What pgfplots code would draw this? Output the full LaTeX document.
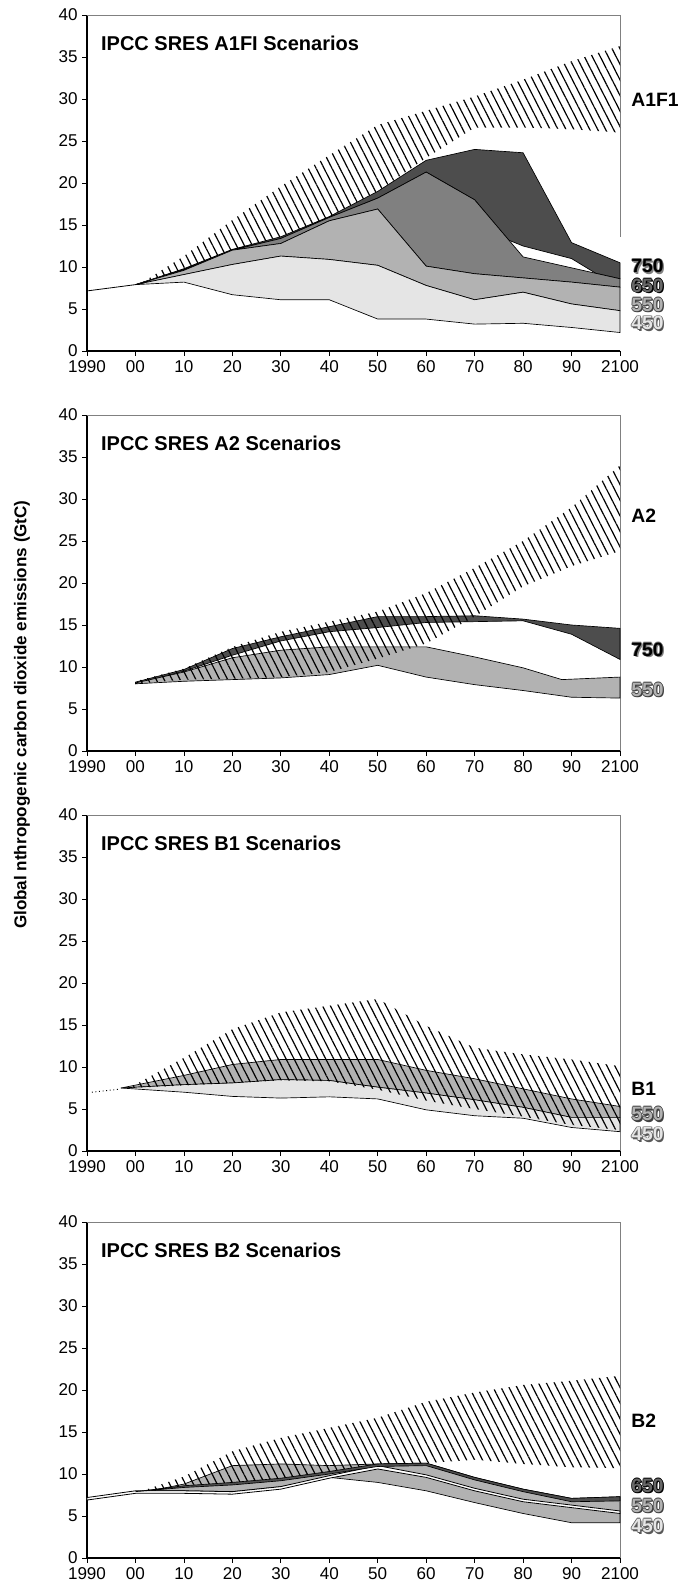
\documentclass[border=0pt]{standalone}
\usepackage{fontspec}
\setmainfont{Liberation Sans}
\usepackage{pgfplots}
\pgfplotsset{compat=1.18}
\usetikzlibrary{patterns.meta}

\definecolor{c750}{RGB}{77,77,77}
\definecolor{c650}{RGB}{128,128,128}
\definecolor{c550}{RGB}{178,178,178}
\definecolor{c450}{RGB}{229,229,229}

\pgfplotsset{
  panel/.style={
    scale only axis, width=399.75pt, height=252pt,
    anchor=north west,
    xmin=1990, xmax=2100, ymin=0, ymax=40,
    axis lines*=left,
    axis line style={black, line width=0.8pt},
    y axis line style={line width=1.1pt},
    xtick={1990,2000,...,2100},
    xticklabels={1990,00,10,20,30,40,50,60,70,80,90,2100},
    ytick={0,5,...,40},
    tick align=outside,
    major tick length=3.5pt,
    tick style={black, line width=0.6pt},
    tick label style={font=\fontsize{12.8}{14}\selectfont},
    /pgf/number format/assume math mode=true,
    clip=false,
  },
  band/.style={draw=black, line width=0.5pt},
  hatch/.style={draw=none, pattern={Lines[angle=-63,distance=5.3pt,line width=0.9pt]}, pattern color=black},
}
\tikzset{
  olab/.style={anchor=west, inner sep=0pt, font=\fontsize{14.5}{15}\selectfont\bfseries},
  ptitle/.style={anchor=west, inner sep=0pt, font=\fontsize{15}{16}\selectfont\bfseries},
}
% outlined scenario label: y value, fill colour, outline colour, text
\newcommand{\olab}[4]{%
  \node[olab, text=#3, xshift=1.0pt, yshift=-1.0pt] at (axis cs:2102.3,#1) {#4};
  \node[olab, text=#3, xshift=0.6pt] at (axis cs:2102.3,#1) {#4};
  \node[olab, text=#3, xshift=-0.6pt] at (axis cs:2102.3,#1) {#4};
  \node[olab, text=#3, yshift=0.6pt] at (axis cs:2102.3,#1) {#4};
  \node[olab, text=#3, yshift=-0.6pt] at (axis cs:2102.3,#1) {#4};
  \node[olab, text=#2] at (axis cs:2102.3,#1) {#4};
}
\newcommand{\frameTR}[1]{%
  \draw[gray, line width=0.6pt] (rel axis cs:0,1) -- (rel axis cs:1,1) -- (rel axis cs:1,#1);
}

\begin{document}
\begin{tikzpicture}
\path[use as bounding box] (0pt,0pt) rectangle (509.25pt,-1190.25pt);
\node[rotate=90, font=\fontsize{12.8}{14}\selectfont\bfseries] at (16.5pt,-536pt)
  {Global nthropogenic carbon dioxide emissions (GtC)};

% ---------------- A1FI ----------------
\begin{axis}[panel, at={(65.25pt,-11.25pt)}]
\frameTR{0.34}
\addplot[band, fill=c750] coordinates {
  (2000,7.9) (2010,9.8) (2020,12.1) (2030,13.6) (2040,16.0) (2050,19.0)
  (2060,22.7) (2070,24.0) (2080,23.6) (2090,12.9) (2100,10.5)
  (2100,8.6) (2095,9.25) (2090,11.0) (2080,12.5) (2077,13.2) (2070,18.0)
  (2060,21.3) (2050,18.2) (2040,15.9) (2030,13.4) (2020,12.0) (2010,9.7) (2000,7.9)} -- cycle;
\addplot[band, fill=c650] coordinates {
  (2000,7.9) (2010,9.7) (2020,12.0) (2030,13.4) (2040,15.9) (2050,18.2)
  (2060,21.3) (2070,18.0) (2080,11.2) (2090,9.9) (2100,8.6)
  (2100,7.6) (2090,8.2) (2080,8.7) (2070,9.2) (2060,10.1) (2050,16.9)
  (2040,15.5) (2030,12.8) (2020,12.0) (2010,9.6) (2000,7.9)} -- cycle;
\addplot[band, fill=c550] coordinates {
  (2000,7.9) (2010,9.6) (2020,12.0) (2030,12.8) (2040,15.5) (2050,16.9)
  (2060,10.1) (2070,9.2) (2080,8.7) (2090,8.2) (2100,7.6)
  (2100,4.8) (2090,5.6) (2080,7.0) (2070,6.1) (2060,7.8) (2050,10.2)
  (2040,10.9) (2030,11.3) (2020,10.3) (2010,9.1) (2000,7.9)} -- cycle;
\addplot[band, fill=c450] coordinates {
  (2000,7.9) (2010,9.1) (2020,10.3) (2030,11.3) (2040,10.9) (2050,10.2)
  (2060,7.8) (2070,6.1) (2080,7.0) (2090,5.6) (2100,4.8)
  (2100,2.2) (2090,2.8) (2080,3.3) (2070,3.2) (2060,3.8) (2050,3.8)
  (2040,6.1) (2030,6.1) (2020,6.7) (2010,8.2) (2000,7.9)} -- cycle;
\addplot[black, line width=0.6pt] coordinates {(1990,7.15) (2000,7.9)};
\addplot[hatch] coordinates {
  (2001,8.0) (2010,11.3) (2020,15.6) (2030,19.6) (2040,23.3) (2050,26.9)
  (2060,28.6) (2070,30.3) (2080,32.3) (2090,34.5) (2100,36.3)
  (2100,26.0) (2090,26.4) (2080,26.6) (2070,26.6) (2060,23.0) (2050,19.0)
  (2040,16.0) (2030,13.6) (2020,12.1) (2010,9.8) (2001,8.0)} -- cycle;
\node[ptitle] at (rel axis cs:0.026,0.915) {IPCC SRES A1FI Scenarios};
\node[olab] at (axis cs:2102.3,29.9) {A1F1};
\olab{10.1}{black}{gray}{750}
\olab{7.8}{c650!80!black}{black}{650}
\olab{5.5}{c550}{black!75}{550}
\olab{3.3}{c450}{black!65}{450}
\end{axis}

% ---------------- A2 ----------------
\begin{axis}[panel, at={(65.25pt,-311.25pt)}]
\frameTR{0}
\addplot[band, fill=c750] coordinates {
  (2000,8.2) (2010,9.7) (2020,12.2) (2030,13.6) (2040,14.8) (2050,16.0)
  (2060,16.0) (2070,16.1) (2080,15.7) (2090,15.0) (2100,14.6)
  (2100,10.9) (2090,13.9) (2080,15.5) (2070,15.4) (2060,15.3) (2050,14.7)
  (2040,14.2) (2030,13.1) (2020,11.4) (2010,9.5) (2000,8.0)} -- cycle;
\addplot[band, fill=c550] coordinates {
  (2000,8.1) (2010,9.4) (2020,11.1) (2030,12.0) (2040,12.4) (2050,12.4)
  (2060,12.4) (2070,11.2) (2080,9.9) (2088,8.5) (2100,8.8)
  (2100,6.3) (2090,6.4) (2080,7.2) (2070,7.9) (2060,8.8) (2050,10.2)
  (2040,9.1) (2030,8.7) (2020,8.5) (2010,8.3) (2000,8.0)} -- cycle;
\addplot[hatch] coordinates {
  (2000,8.3) (2010,9.8) (2020,12.4) (2030,14.2) (2040,15.4) (2050,16.6)
  (2060,18.8) (2070,21.8) (2080,25.0) (2090,29.0) (2100,34.0)
  (2100,23.8) (2090,22.0) (2080,19.6) (2070,16.0) (2060,12.8) (2050,11.0)
  (2040,9.4) (2030,8.8) (2020,8.6) (2010,8.5) (2000,8.0)} -- cycle;
\node[ptitle] at (rel axis cs:0.026,0.915) {IPCC SRES A2 Scenarios};
\node[olab] at (axis cs:2102.3,28.0) {A2};
\olab{12.1}{black}{gray}{750}
\olab{7.3}{c550}{black!75}{550}
\end{axis}

% ---------------- B1 ----------------
\begin{axis}[panel, at={(65.25pt,-611.25pt)}]
\frameTR{0}
\addplot[band, fill=c550] coordinates {
  (1997,7.5) (2010,9.0) (2020,10.3) (2030,10.9) (2040,10.9) (2050,10.9)
  (2060,9.6) (2070,8.6) (2080,7.4) (2090,6.2) (2100,5.3)
  (2100,4.0) (2090,4.0) (2080,5.2) (2070,6.1) (2060,6.9) (2050,7.6)
  (2040,8.4) (2030,8.5) (2020,8.1) (2010,7.9) (1997,7.5)} -- cycle;
\addplot[band, fill=c450] coordinates {
  (1997,7.5) (2010,7.9) (2020,8.1) (2030,8.5) (2040,8.4) (2050,7.6)
  (2060,6.9) (2070,6.1) (2080,5.2) (2090,4.0) (2100,4.0)
  (2100,2.3) (2090,2.8) (2080,3.9) (2070,4.2) (2060,4.9) (2050,6.2)
  (2040,6.45) (2030,6.3) (2020,6.5) (2010,7.0) (1997,7.5)} -- cycle;
\addplot[black, dotted, line width=0.7pt] coordinates {(1991,7.0) (1996.5,7.35)};
\addplot[hatch] coordinates {
  (1999,7.6) (2010,11.1) (2020,14.5) (2030,16.5) (2040,17.3) (2050,18.1)
  (2060,14.9) (2070,12.3) (2080,11.5) (2090,10.9) (2100,10.1)
  (2100,2.5) (2090,3.1) (2080,4.1) (2070,5.0) (2060,6.0) (2050,7.3)
  (2040,8.3) (2030,8.4) (2020,8.1) (2010,7.8) (1999,7.5)} -- cycle;
\node[ptitle] at (rel axis cs:0.026,0.915) {IPCC SRES B1 Scenarios};
\node[olab] at (axis cs:2102.3,7.4) {B1};
\olab{4.4}{c550}{black!75}{550}
\olab{2.0}{c450}{black!65}{450}
\end{axis}

% ---------------- B2 ----------------
\begin{axis}[panel, at={(65.25pt,-916.5pt)}]
\frameTR{0}
\addplot[band, fill=c550] coordinates {
  (2003,8.0) (2010,8.8) (2020,11.0) (2030,11.2) (2040,11.0) (2050,11.2)
  (2060,11.3) (2070,9.6) (2080,8.2) (2090,7.1) (2100,7.3)
  (2100,4.2) (2090,4.2) (2080,5.3) (2070,6.6) (2060,8.0) (2050,9.0)
  (2040,9.6) (2030,8.5) (2020,7.9) (2010,8.0) (2003,8.0)} -- cycle;
\addplot[band, fill=white, line width=0.6pt] coordinates {
  (1990,7.2) (2000,8.0) (2010,8.0) (2020,7.9) (2030,8.5) (2040,9.8) (2050,11.0)
  (2060,9.9) (2070,8.3) (2080,7.0) (2090,6.3) (2100,5.6)
  (2100,5.3) (2090,6.0) (2080,6.7) (2070,8.0) (2060,9.6) (2050,10.6)
  (2040,9.5) (2030,8.2) (2020,7.6) (2010,7.7) (2000,7.7) (1990,6.9)} -- cycle;
\addplot[band, fill=c750] coordinates {
  (2000,7.9) (2010,8.6) (2020,9.0) (2030,9.5) (2040,10.3) (2050,11.2)
  (2060,11.3) (2070,9.6) (2080,8.2) (2090,7.1) (2100,7.3)
  (2100,6.8) (2090,6.7) (2080,7.9) (2070,9.3) (2060,11.0) (2050,10.9)
  (2040,10.0) (2030,9.2) (2020,8.7) (2010,8.4) (2000,7.9)} -- cycle;
\addplot[hatch] coordinates {
  (2002,8.1) (2010,9.7) (2020,12.7) (2030,14.3) (2040,15.5) (2050,16.7)
  (2060,18.6) (2070,19.7) (2080,20.6) (2090,21.1) (2100,21.7)
  (2100,10.7) (2090,10.8) (2080,11.2) (2070,11.7) (2060,11.3) (2050,11.2)
  (2040,10.3) (2030,9.5) (2020,9.0) (2010,8.6) (2002,8.0)} -- cycle;
\node[ptitle] at (rel axis cs:0.026,0.915) {IPCC SRES B2 Scenarios};
\node[olab] at (axis cs:2102.3,16.3) {B2};
\olab{8.6}{c650!80!black}{black}{650}
\olab{6.2}{c550}{black!75}{550}
\olab{3.8}{c450}{black!65}{450}
\end{axis}
\end{tikzpicture}
\end{document}
